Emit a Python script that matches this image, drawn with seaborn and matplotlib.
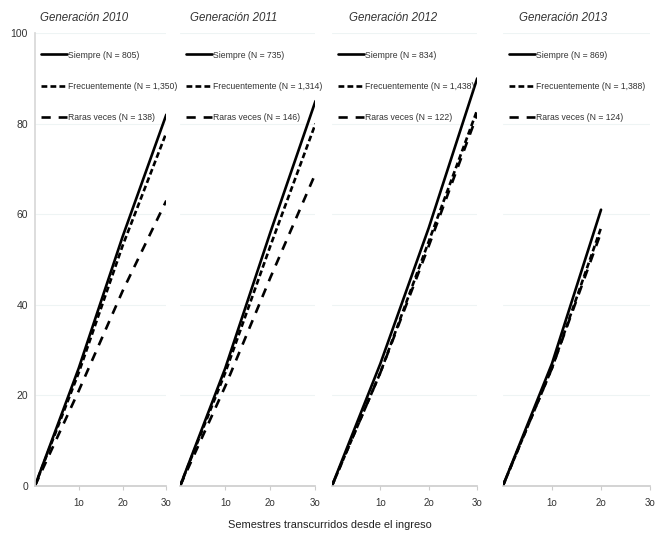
import pandas as pd
import matplotlib.pyplot as plt
import seaborn as sns

sns.set_theme(style="white")
plt.rcParams['font.family'] = ['Liberation Sans', 'DejaVu Sans']

GENERACIONES = ['2010', '2011', '2012', '2013']
GRUPOS = ['Siempre', 'Frecuentemente', 'Raras veces']
N_GRUPO = {
    '2010': ['805', '1,350', '138'],
    '2011': ['735', '1,314', '146'],
    '2012': ['834', '1,438', '122'],
    '2013': ['869', '1,388', '124'],
}
SEMESTRES = [0, 1, 2, 3]
TICK_LABELS = ['1o', '2o', '3o']

# porcentaje acumulado por semestre
SIEMPRE = {'2010': [0, 26, 55, 82], '2011': [0, 26, 56, 85],
           '2012': [0, 27, 57, 90], '2013': [0, 27, 61]}
FRECUENTE = {'2010': [0, 25, 53, 78], '2011': [0, 25, 53, 80],
             '2012': [0, 25, 54, 83], '2013': [0, 26, 57]}
RARAS = {'2010': [0, 21, 43, 63], '2011': [0, 22, 46, 69],
         '2012': [0, 25, 53, 82], '2013': [0, 26, 56]}

SERIES = dict(zip(GRUPOS, [SIEMPRE, FRECUENTE, RARAS]))
DASHES = dict(zip(GRUPOS, ["", (2.2, 1.2), (3.5, 3.0)]))

# panel positions in figure fraction (left, width)
PANELES = [(0.053, 0.199), (0.273, 0.205), (0.503, 0.220), (0.762, 0.223)]
TITLE_X = [0.04, 0.07, 0.12, 0.11]


def build_frame(gen):
    rows = []
    for grupo, n in zip(GRUPOS, N_GRUPO[gen]):
        label = f'{grupo} (N = {n})'
        for s, v in zip(SEMESTRES, SERIES[grupo][gen]):
            rows.append({'semestre': s, 'pct': v, 'grupo': label})
    return pd.DataFrame(rows)


fig = plt.figure(figsize=(6.6, 5.35), dpi=100)

for i, gen in enumerate(GENERACIONES):
    left, width = PANELES[i]
    ax = fig.add_axes([left, 0.092, width, 0.846])
    df = build_frame(gen)
    labels = [f'{g} (N = {n})' for g, n in zip(GRUPOS, N_GRUPO[gen])]
    dashes = {lab: DASHES[g] for lab, g in zip(labels, GRUPOS)}
    sns.lineplot(data=df, x='semestre', y='pct', style='grupo',
                 style_order=labels, dashes=dashes, color='black',
                 linewidth=1.9, ax=ax)

    ax.set_xlim(0, 3)
    ax.set_ylim(0, 100)
    ax.set_xticks([1, 2, 3])
    ax.set_xticklabels(TICK_LABELS, fontsize=7, color='#333333')
    ax.set_yticks([0, 20, 40, 60, 80, 100])
    if i == 0:
        ax.tick_params(axis='y', labelsize=7.5, labelcolor='#333333',
                       length=0, pad=5)
    else:
        ax.set_yticklabels([])
        ax.tick_params(axis='y', length=0)
    ax.tick_params(axis='x', length=3, width=0.8, color='#cccccc',
                   direction='out', bottom=True, pad=6)
    ax.grid(axis='y', color='#eef4f4', linewidth=0.8)
    ax.set_axisbelow(True)
    for side in ['top', 'right']:
        ax.spines[side].set_visible(False)
    ax.spines['left'].set_visible(i == 0)
    ax.spines['left'].set_color('#d8d8d8')
    ax.spines['bottom'].set_color('#cccccc')
    ax.spines['bottom'].set_linewidth(1.2)
    ax.set_xlabel('')
    ax.set_ylabel('')
    ax.set_title(f'Generación {gen}', loc='left', x=TITLE_X[i],
                 fontsize=8.3, style='italic', color='#333333', pad=9)
    ax.legend(loc='upper left', bbox_to_anchor=(0.0, 0.975), frameon=False,
              fontsize=6.2, handlelength=3.0, handletextpad=0.1,
              labelspacing=2.6, borderaxespad=0.3, labelcolor='#333333')

fig.text(0.5, 0.013, 'Semestres transcurridos desde el ingreso',
         ha='center', fontsize=7.9, color='#222222')

fig.savefig('out.png', dpi=100)
